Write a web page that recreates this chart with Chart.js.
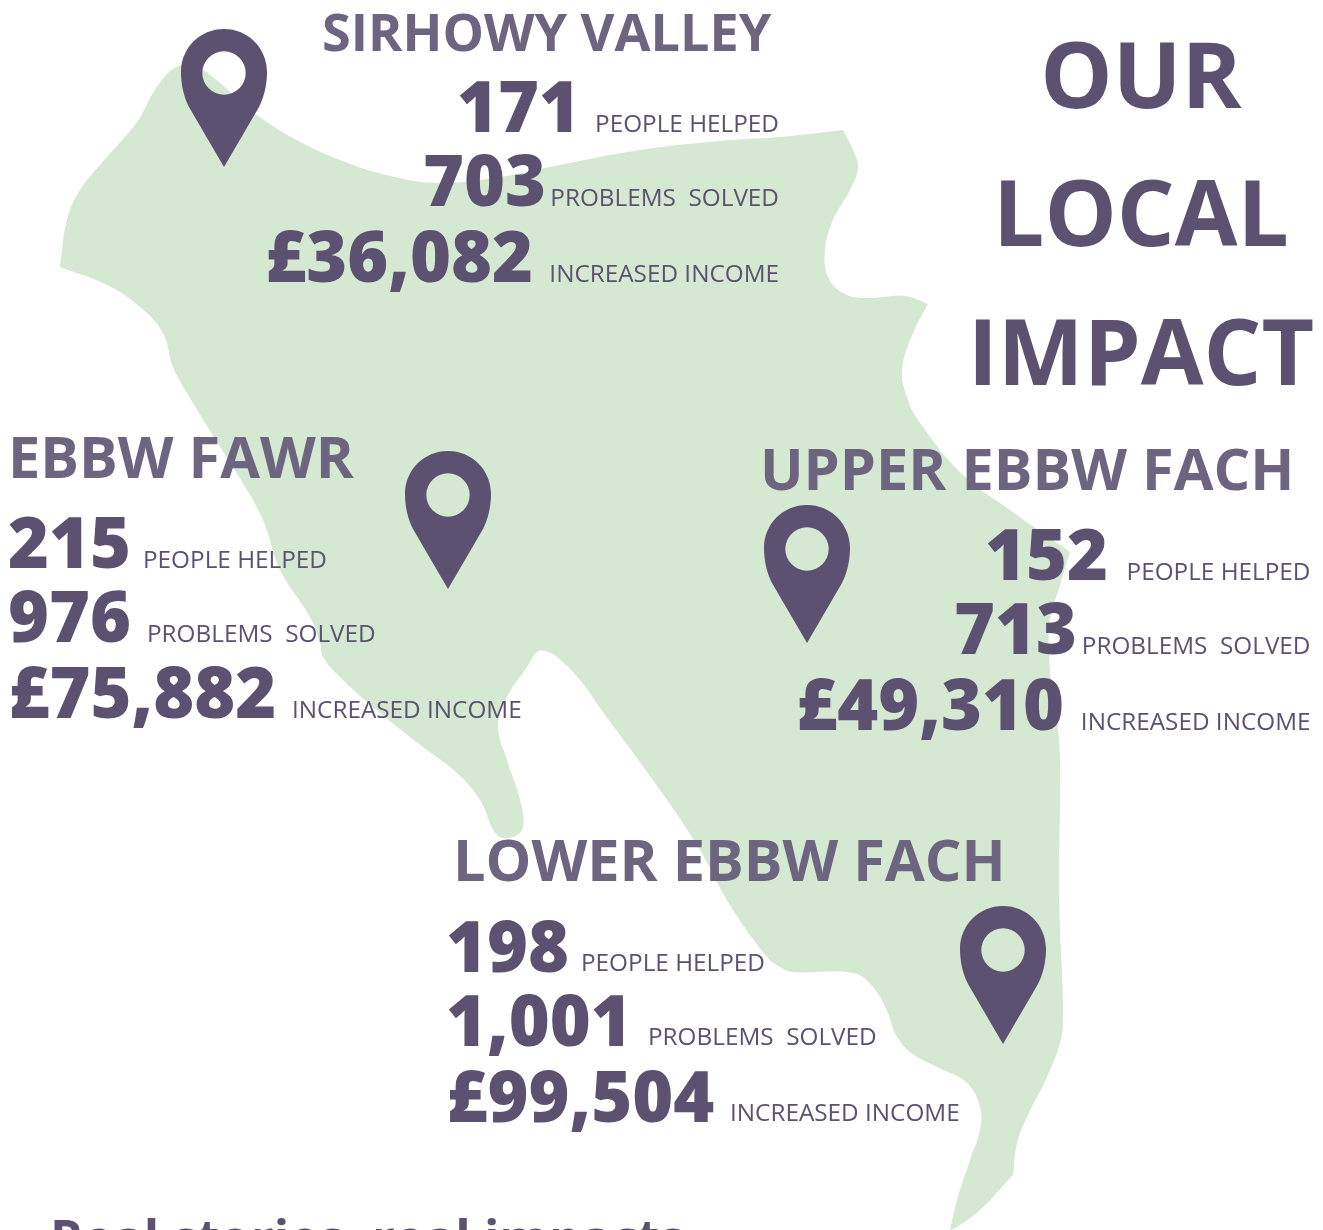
<!DOCTYPE html>
<html>
<head>
<meta charset="utf-8">
<style>
  html, body { margin: 0; padding: 0; background: #fff; overflow: hidden; }
  canvas { display: block; }
</style>
<script src="https://cdn.jsdelivr.net/npm/chart.js@4"></script>
</head>
<body>
<canvas id="impactChart" width="1323" height="1230"></canvas>
<script>
const titleLines = ["OUR", "LOCAL", "IMPACT"];
const footerText = "Real stories, real impacts";
const regions = ["SIRHOWY VALLEY", "EBBW FAWR", "UPPER EBBW FACH", "LOWER EBBW FACH"];
const peopleHelped = [171, 215, 152, 198];
const problemsSolved = [703, 976, 713, 1001];
const increasedIncome = [36082, 75882, 49310, 99504];
const measureLabels = ["PEOPLE HELPED", "PROBLEMS  SOLVED", "INCREASED INCOME"];

// map outline (repeated points keep the corners sharp)
const outlineX = [180, 203, 253, 293, 340, 390, 440, 500, 560, 640, 720, 780, 843, 843, 853, 858, 850, 833, 825, 828, 843, 863, 905, 928, 928, 913, 902, 907, 918, 961, 1010, 1070, 1070, 1060, 1050, 1049, 1052, 1059, 1060, 1059, 1060, 1062, 1063, 1060, 1047, 1027, 1017, 1013, 1013, 980, 957, 950, 950, 957, 970, 980, 980, 967, 937, 910, 895, 888, 873, 853, 793, 780, 767, 730, 700, 660, 600, 580, 557, 545, 537, 527, 507, 498, 507, 520, 523, 513, 497, 480, 457, 423, 380, 343, 323, 320, 310, 280, 265, 250, 217, 187, 173, 163, 140, 107, 60, 60, 67, 80, 107, 137, 153, 168, 180];
const outlineY = [65, 70, 112, 138, 160, 176, 183, 177, 165, 150, 141, 137, 130, 130, 150, 167, 190, 220, 250, 277, 293, 298, 296, 304, 304, 333, 370, 397, 420, 473, 510, 552, 552, 585, 620, 653, 690, 740, 800, 870, 930, 973, 1020, 1043, 1077, 1117, 1143, 1175, 1175, 1210, 1227, 1230, 1230, 1200, 1160, 1130, 1107, 1083, 1067, 1052, 1033, 1013, 987, 973, 972, 967, 957, 905, 850, 790, 708, 680, 657, 651, 652, 667, 697, 727, 760, 800, 827, 837, 835, 800, 773, 747, 713, 680, 657, 643, 617, 570, 525, 495, 442, 393, 367, 333, 307, 285, 267, 267, 220, 190, 157, 122, 93, 73, 65];

const pinX = [224, 448, 807, 1003];
const pinY = [98, 520, 574, 975];

const INK = "#5c5170";
const HEAD = "#6d6480";
const FAMILY = '"Open Sans"';

// text placement per region, in the same units as the map
const layout = [
  { head: [322, 51, 52.2], nums: [[580, 132, "right"], [546, 206, "right"], [533, 282, "right"]], labels: [[779, 132, "right"], [779, 206, "right"], [779, 282, "right"]] },
  { head: [8, 478, 57.7], nums: [[8, 568, "left"], [8, 642, "left"], [8.5, 718, "left"]], labels: [[143, 568, "left"], [147, 642, "left"], [292, 718, "left"]] },
  { head: [760, 490, 57.7], nums: [[1108, 580, "right"], [1077, 654, "right"], [1064, 730, "right"]], labels: [[1310.5, 580, "right"], [1310.5, 654, "right"], [1310.5, 730, "right"]] },
  { head: [453, 881, 57.7], nums: [[446, 972, "left"], [446, 1046, "left"], [446.5, 1122, "left"]], labels: [[581, 971, "left"], [648, 1045, "left"], [730, 1121, "left"]] },
];
const titleBase = [108, 246, 385];

function makePin() {
  const c = document.createElement("canvas");
  c.width = 86;
  c.height = 138;
  const g = c.getContext("2d");
  const p = new Path2D();
  p.moveTo(43, 138);
  p.lineTo(8, 78);
  p.bezierCurveTo(3, 68, 0, 56, 0, 43);
  p.bezierCurveTo(0, 19, 19, 0, 43, 0);
  p.bezierCurveTo(67, 0, 86, 19, 86, 43);
  p.bezierCurveTo(86, 56, 83, 68, 78, 78);
  p.closePath();
  p.moveTo(65, 44);
  p.arc(43, 44, 21.7, 0, Math.PI * 2);
  g.fillStyle = INK;
  g.fill(p, "evenodd");
  return c;
}

const money = (v) => "£" + v.toLocaleString("en-GB");
const count = (v) => v.toLocaleString("en-GB");

const infographicText = {
  id: "infographicText",
  afterDatasetsDraw(chart) {
    const { ctx, scales } = chart;
    const put = (text, x, y, font, color, align) => {
      ctx.font = font;
      ctx.fillStyle = color;
      ctx.textAlign = align || "left";
      ctx.textBaseline = "alphabetic";
      ctx.fillText(text, scales.x.getPixelForValue(x), scales.y.getPixelForValue(y));
    };
    ctx.save();
    titleLines.forEach((line, i) => {
      put(line, 1141, titleBase[i], `700 91px ${FAMILY}`, INK, "center");
    });
    regions.forEach((name, i) => {
      const l = layout[i];
      put(name, l.head[0], l.head[1], `700 ${l.head[2]}px ${FAMILY}`, HEAD);
      const nums = [count(peopleHelped[i]), count(problemsSolved[i]), money(increasedIncome[i])];
      nums.forEach((n, j) => {
        put(n, l.nums[j][0], l.nums[j][1], `800 70px ${FAMILY}`, INK, l.nums[j][2]);
        put(measureLabels[j], l.labels[j][0], l.labels[j][1], `400 24.3px ${FAMILY}`, INK, l.labels[j][2]);
      });
    });
    put(footerText, 50, 1256, `700 50.6px ${FAMILY}`, INK);
    ctx.restore();
  },
};

new Chart(document.getElementById("impactChart").getContext("2d"), {
  type: "scatter",
  data: {
    datasets: [
      {
        label: "Pins",
        data: pinX.map((x, i) => ({ x, y: pinY[i] })),
        pointStyle: makePin(),
        pointRadius: 43,
        order: 0,
      },
      {
        label: "Map",
        data: outlineX.map((x, i) => ({ x, y: outlineY[i] })),
        showLine: true,
        fill: "shape",
        backgroundColor: "#d5e8d1",
        borderWidth: 0,
        pointRadius: 0,
        tension: 0.4,
        order: 1,
      },
    ],
  },
  options: {
    responsive: false,
    animation: false,
    events: [],
    layout: { padding: 0, autoPadding: false },
    plugins: { legend: { display: false }, tooltip: { enabled: false }, filler: { propagate: false } },
    scales: {
      x: { type: "linear", display: false, min: 0, max: 1323 },
      y: { type: "linear", display: false, min: 0, max: 1230, reverse: true },
    },
  },
  plugins: [infographicText],
});
</script>
</body>
</html>
